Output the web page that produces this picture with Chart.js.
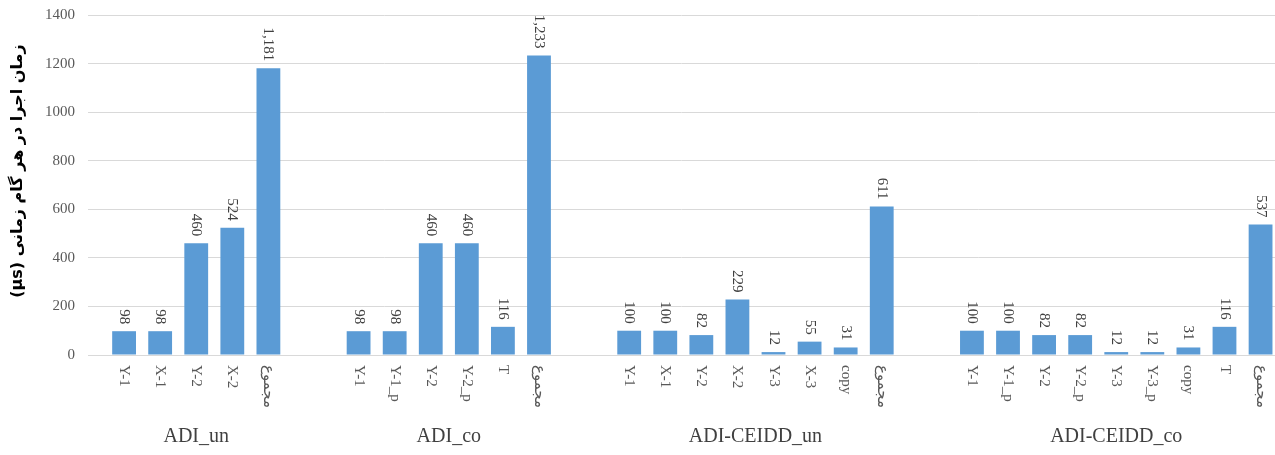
<!DOCTYPE html>
<html>
<head>
<meta charset="utf-8">
<script src="https://cdn.jsdelivr.net/npm/chart.js@4.4.1/dist/chart.umd.min.js"></script>
<style>
  html, body { margin: 0; padding: 0; background: #fff; }
  #wrap { width: 1275px; height: 455px; position: relative; }
</style>
</head>
<body>
<div id="wrap"><canvas id="chart"></canvas></div>
<script>
(function () {
  'use strict';

  // data
  var groupNames = ['ADI_un', 'ADI_co', 'ADI-CEIDD_un', 'ADI-CEIDD_co'];

  var adiUnLabels = ['Y-1', 'X-1', 'Y-2', 'X-2', 'مجموع'];
  var adiUnValues = [98, 98, 460, 524, 1181];

  var adiCoLabels = ['Y-1', 'Y-1_p', 'Y-2', 'Y-2_p', 'T', 'مجموع'];
  var adiCoValues = [98, 98, 460, 460, 116, 1233];

  var ceiddUnLabels = ['Y-1', 'X-1', 'Y-2', 'X-2', 'Y-3', 'X-3', 'copy', 'مجموع'];
  var ceiddUnValues = [100, 100, 82, 229, 12, 55, 31, 611];

  var ceiddCoLabels = ['Y-1', 'Y-1_p', 'Y-2', 'Y-2_p', 'Y-3', 'Y-3_p', 'copy', 'T', 'مجموع'];
  var ceiddCoValues = [100, 100, 82, 82, 12, 12, 31, 116, 537];

  var yTicks = [0, 200, 400, 600, 800, 1000, 1200, 1400];
  var yTitle = 'زمان اجرا در هر گام زمانی (μs)';

  var groups = [
    { labels: adiUnLabels, values: adiUnValues },
    { labels: adiCoLabels, values: adiCoValues },
    { labels: ceiddUnLabels, values: ceiddUnValues },
    { labels: ceiddCoLabels, values: ceiddCoValues },
  ];

  // one slot per bar, with a 1.5 slot gap between groups
  var GROUP_GAP = 1.5;
  var points = [];
  var catLabels = [];
  var groupCenters = [];
  var slot = 0;
  groups.forEach(function (g, gi) {
    var start = slot + gi * GROUP_GAP;
    g.values.forEach(function (v, i) {
      points.push({ x: start + i, y: v });
      catLabels.push(g.labels[i]);
    });
    groupCenters.push(start + (g.values.length - 1) / 2);
    slot += g.values.length;
  });

  var serif = "'Liberation Serif', 'Times New Roman', 'DejaVu Sans', serif";
  var tickColor = '#595959';
  var textColor = '#404040';

  var labelPlugin = {
    id: 'barLabels',
    afterDatasetsDraw: function (chart) {
      var ctx = chart.ctx;
      var meta = chart.getDatasetMeta(0);
      var xScale = chart.scales.x;
      ctx.save();
      ctx.font = '15px ' + serif;
      meta.data.forEach(function (bar, i) {
        var v = points[i].y;
        // value label, rotated clockwise, ending just above the bar
        ctx.save();
        ctx.translate(bar.x, bar.y - 7);
        ctx.rotate(Math.PI / 2);
        ctx.textAlign = 'right';
        ctx.textBaseline = 'middle';
        ctx.fillStyle = textColor;
        ctx.fillText(v.toLocaleString('en-US'), 0, 0);
        ctx.restore();
        // category label under the axis
        ctx.save();
        ctx.translate(bar.x, xScale.top + 10);
        ctx.rotate(Math.PI / 2);
        ctx.textAlign = 'left';
        ctx.textBaseline = 'middle';
        ctx.fillStyle = tickColor;
        ctx.fillText(catLabels[i], 0, 0);
        ctx.restore();
      });
      ctx.font = '20px ' + serif;
      ctx.fillStyle = textColor;
      ctx.textAlign = 'center';
      ctx.textBaseline = 'middle';
      groupCenters.forEach(function (c, gi) {
        ctx.fillText(groupNames[gi], xScale.getPixelForValue(c), 437);
      });
      ctx.restore();
    },
  };

  new Chart(document.getElementById('chart'), {
    type: 'bar',
    data: {
      datasets: [
        {
          data: points,
          backgroundColor: '#5B9BD5',
          borderWidth: 0,
          barPercentage: 0.66,
          categoryPercentage: 1,
        },
      ],
    },
    options: {
      responsive: true,
      maintainAspectRatio: false,
      animation: false,
      layout: { padding: { top: 15, right: 0, bottom: 0, left: 0 } },
      plugins: {
        legend: { display: false },
        tooltip: { enabled: false },
      },
      scales: {
        x: {
          type: 'linear',
          offset: false,
          min: -1,
          max: 31.9,
          grid: { display: false },
          border: { color: '#D9D9D9', width: 1 },
          ticks: { display: false },
          afterBuildTicks: function (scale) {
            scale.ticks = points.map(function (p) { return { value: p.x }; });
          },
          afterFit: function (scale) {
            scale.height = 100;
          },
        },
        y: {
          min: 0,
          max: 1400,
          grid: { color: '#D9D9D9', drawTicks: true, tickLength: 13, tickColor: 'rgba(0,0,0,0)' },
          border: { display: false },
          afterBuildTicks: function (scale) {
            scale.ticks = yTicks.map(function (v) { return { value: v }; });
          },
          ticks: {
            padding: 0,
            color: tickColor,
            font: { family: serif, size: 15 },
            callback: function (v) { return String(v); },
          },
          title: {
            display: true,
            // trailing spaces nudge the centred title up like the original
            text: '\u2067' + yTitle + '\u00A0\u00A0\u00A0\u00A0\u00A0\u2069',
            color: '#000',
            font: { family: "'DejaVu Sans', sans-serif", size: 16, weight: 'bold' },
            padding: { top: 8, bottom: 0 },
          },
          afterFit: function (scale) {
            scale.width = 88;
          },
        },
      },
    },
    plugins: [labelPlugin],
  });
})();
</script>
</body>
</html>
